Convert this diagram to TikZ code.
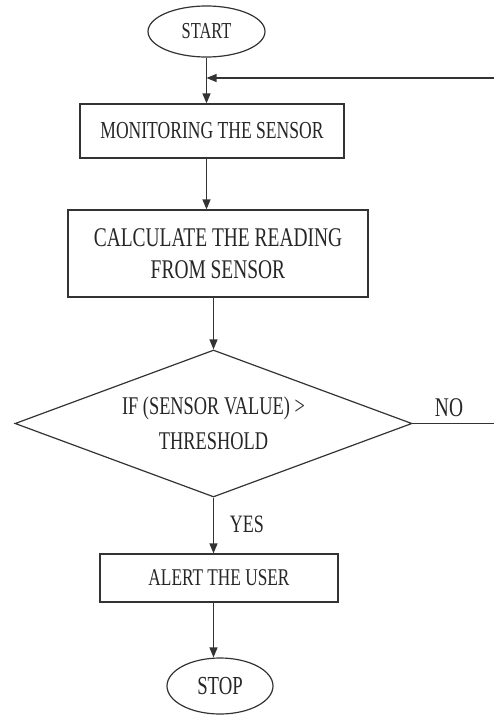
\documentclass[tikz,border=0pt]{standalone}
\usepackage{fontspec}
\setmainfont{Liberation Serif}
\newfontfamily\cond[FakeStretch=0.72]{Liberation Serif}
\usetikzlibrary{arrows.meta,shapes.geometric}
\begin{document}
\begin{tikzpicture}[x=1pt,y=-1pt,
  ln/.style={draw=black!80, line width=1.2pt},
  arr/.style={ln, -{Triangle[length=10pt,width=8pt]}},
  boxn/.style={ln, rectangle, inner sep=0pt, text=black!85, align=center},
  ovaln/.style={ln, ellipse, inner sep=0pt, text=black!85},
  dian/.style={ln, diamond, aspect=2.7, inner sep=0pt, text=black!85, align=center},
  lbl/.style={text=black!85, inner sep=0pt}]
\useasboundingbox (0,0) rectangle (494,715);
\node[ovaln, minimum width=117pt, minimum height=51pt,
  font=\cond\fontsize{22.8}{26}\selectfont] (start) at (206.5,31.5) {START};
\node[boxn, minimum width=264pt, minimum height=54pt,
  font=\cond\fontsize{24.4}{28}\selectfont] (b1) at (212,131) {MONITORING THE SENSOR};
\node[boxn, minimum width=300pt, minimum height=87pt,
  font=\cond\fontsize{27}{32}\selectfont] (b2) at (218,253.5) {CALCULATE THE READING\\FROM SENSOR};
\node[dian, minimum width=397pt, minimum height=147pt,
  font=\cond\fontsize{25.5}{35}\selectfont] (dia) at (213.5,423.5) {IF (SENSOR VALUE) >\\THRESHOLD};
\node[boxn, minimum width=238pt, minimum height=48pt,
  font=\cond\fontsize{24}{28}\selectfont] (b3) at (219,578) {ALERT THE USER};
\node[ovaln, minimum width=106pt, minimum height=56pt,
  font=\cond\fontsize{26}{30}\selectfont] (stop) at (220,686) {STOP};
\node[lbl, font=\cond\fontsize{27}{30}\selectfont] (no) at (449,408) {NO};
\node[lbl, font=\cond\fontsize{25}{30}\selectfont] (yes) at (247,524) {YES};
\coordinate (fbr) at (497,78);
\draw[arr] (start.south) -- (start.south |- b1.north);
\draw[arr] (start.south |- b1.south) -- (start.south |- b2.north);
\draw[arr] (dia.north |- b2.south) -- (dia.north);
\draw[arr] (dia.south) -- (dia.south |- b3.north);
\draw[arr] (dia.south |- b3.south) -- (dia.south |- stop.north);
\draw[arr] (dia.east) -- (dia.east -| fbr) -- (fbr) -- (start.south |- fbr);
\end{tikzpicture}
\end{document}
